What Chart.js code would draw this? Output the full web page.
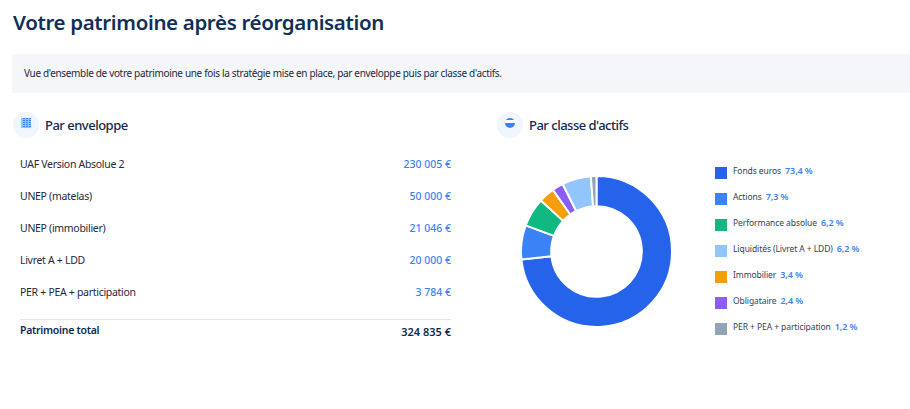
<!DOCTYPE html>
<html lang="fr">
<head>
<meta charset="utf-8">
<title>Votre patrimoine après réorganisation</title>
<script src="https://cdn.jsdelivr.net/npm/chart.js@4"></script>
<style>
html, body { margin: 0; padding: 0; background: #fff; overflow: hidden; }
body { width: 910px; height: 409px; position: relative; font-family: "Noto Sans", sans-serif; color: #0f2a4d; }
.abs { position: absolute; white-space: nowrap; line-height: 1; }
#title { left: 13px; top: 9px; font-size: 20.5px; font-weight: 600; letter-spacing: -0.35px; line-height: 26px; color: #0f2f57; }
#intro { left: 12px; top: 54px; width: 898px; height: 39px; background: #f4f6fa; }
#introText { left: 24px; top: 67px; font-size: 10px; letter-spacing: -0.33px; line-height: 13px; color: #1e293b; }
.dot { position: absolute; width: 26px; height: 26px; border-radius: 50%; background: #eff6ff; }
.head { font-size: 13px; font-weight: 500; letter-spacing: -0.5px; line-height: 16px; color: #12294a; }
.gridIcon { position: absolute; left: 8px; top: 6px; width: 10px; height: 10px; background-color: #3b82f6; background-image: repeating-linear-gradient(#93c5fd 0 1px, transparent 1px 2px), repeating-linear-gradient(90deg, #93c5fd 0 1px, transparent 1px 3px); background-position: 1px 1px; }
.halfIcon { position: absolute; left: 8px; top: 6px; width: 10px; height: 10px; border-radius: 50%; background: linear-gradient(#3b82f6 15%, #fff 15% 50%, #3b82f6 50%); }
.rowLabel { left: 20px; font-size: 10.5px; letter-spacing: -0.3px; line-height: 14px; color: #1e293b; }
.rowValue { right: 459px; font-size: 10.5px; line-height: 14px; font-weight: 500; color: #3b82f6; }
#divider { left: 20px; top: 319px; width: 431px; height: 1px; background: #e2e8f0; }
#totalLabel { left: 20px; top: 323px; font-size: 10.5px; letter-spacing: -0.27px; line-height: 14px; font-weight: 600; }
#totalValue { right: 459px; top: 325px; font-size: 11px; line-height: 14px; font-weight: 600; }
#chartBox { position: absolute; left: 520px; top: 175px; width: 153px; height: 153px; }
.swatch { position: absolute; left: 715px; width: 12px; height: 12px; }
.legendText { left: 733px; font-size: 8.5px; letter-spacing: -0.08px; line-height: 11px; color: #334155; }
.legendText b { margin-left: 4px; font-size: 9px; font-weight: 600; letter-spacing: -0.1px; color: #3b82f6; }
</style>
</head>
<body>
<div id="title" class="abs">Votre patrimoine après réorganisation</div>
<div id="intro" class="abs"></div>
<div id="introText" class="abs">Vue d'ensemble de votre patrimoine une fois la stratégie mise en place, par enveloppe puis par classe d'actifs.</div>

<div class="dot" style="left:13px;top:112px"><div class="gridIcon"></div></div>
<div class="abs head" style="left:45px;top:117px">Par enveloppe</div>
<div class="dot" style="left:497px;top:112px"><div class="halfIcon"></div></div>
<div class="abs head" style="left:529px;top:117px">Par classe d'actifs</div>

<div id="rows"></div>
<div id="divider" class="abs"></div>
<div id="totalLabel" class="abs">Patrimoine total</div>
<div id="totalValue" class="abs">324 835 €</div>

<div id="chartBox"><canvas id="assetChart"></canvas></div>
<div id="legend"></div>

<script>
const envelopeNames = ["UAF Version Absolue 2", "UNEP (matelas)", "UNEP (immobilier)", "Livret A + LDD", "PER + PEA + participation"];
const envelopeValues = ["230 005 €", "50 000 €", "21 046 €", "20 000 €", "3 784 €"];

const assetNames = ["Fonds euros", "Actions", "Performance absolue", "Immobilier", "Obligataire", "Liquidités (Livret A + LDD)", "PER + PEA + participation"];
const assetShares = [73.4, 7.3, 6.2, 3.4, 2.4, 6.2, 1.2];
const assetColors = ["#2563eb", "#3b82f6", "#10b981", "#f59e0b", "#8b5cf6", "#93c5fd", "#94a3b8"];

function addDiv(parent, className, top, html) {
    const el = document.createElement("div");
    el.className = className;
    el.style.top = top + "px";
    el.innerHTML = html;
    parent.appendChild(el);
}

const rows = document.getElementById("rows");
envelopeNames.forEach(function(name, i) {
    const top = 157.4 + i * 32;
    addDiv(rows, "abs rowLabel", top, name);
    addDiv(rows, "abs rowValue", top - 0.5, envelopeValues[i]);
});

// legend is listed by share, the ring keeps its own order
const legend = document.getElementById("legend");
const legendOrder = assetNames.map(function(_, i) { return i; }).sort(function(a, b) {
    return assetShares[b] - assetShares[a];
});
legendOrder.forEach(function(idx, i) {
    const top = 167 + i * 26;
    const swatch = document.createElement("div");
    swatch.className = "swatch";
    swatch.style.top = top + "px";
    swatch.style.background = assetColors[idx];
    legend.appendChild(swatch);
    const share = assetShares[idx].toFixed(1).replace(".", ",") + " %";
    addDiv(legend, "abs legendText", top - 2.5 + (i > 0 ? 0.5 : 0), assetNames[idx] + "<b>" + share + "</b>");
});

new Chart(document.getElementById("assetChart"), {
    type: "doughnut",
    data: {
        labels: assetNames,
        datasets: [{
            data: assetShares,
            backgroundColor: assetColors,
            borderColor: "#fff",
            borderWidth: 2
        }]
    },
    options: {
        responsive: true,
        maintainAspectRatio: false,
        animation: false,
        cutout: "60%",
        plugins: { legend: { display: false }, tooltip: { enabled: false } }
    }
});
</script>
</body>
</html>
